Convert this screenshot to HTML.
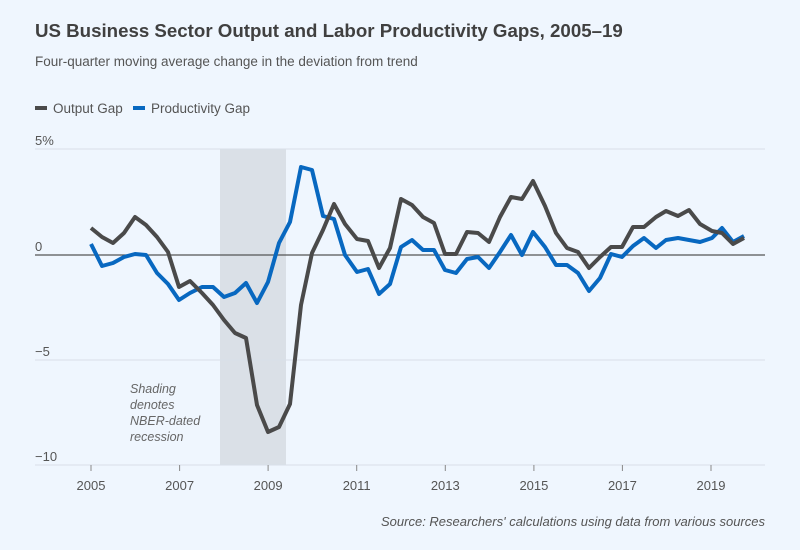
<!DOCTYPE html>
<html><head><meta charset="utf-8"><style>
body{margin:0;background:#eff6fe;}
svg{display:block;font-family:"Liberation Sans",sans-serif;}
</style></head><body>
<svg width="800" height="550" viewBox="0 0 800 550" xmlns="http://www.w3.org/2000/svg">
<rect width="800" height="550" fill="#eff6fe"/>
<text x="35" y="37" font-size="18.7" font-weight="bold" fill="#404040">US Business Sector Output and Labor Productivity Gaps, 2005–19</text>
<text x="35" y="66" font-size="13.5" fill="#555">Four-quarter moving average change in the deviation from trend</text>
<line x1="35" y1="108" x2="47" y2="108" stroke="#4a4a4a" stroke-width="4"/>
<text x="53" y="113" font-size="13.5" fill="#555">Output Gap</text>
<line x1="133" y1="108" x2="145" y2="108" stroke="#0868c0" stroke-width="4"/>
<text x="151" y="113" font-size="13.5" fill="#555">Productivity Gap</text>
<rect x="220" y="149" width="66" height="316" fill="#dae0e7"/>
<g stroke="#d8dfe8" stroke-width="1">
<line x1="35" y1="149" x2="765" y2="149"/>
<line x1="35" y1="360" x2="765" y2="360"/>
<line x1="35" y1="465" x2="765" y2="465"/>
</g>
<line x1="35" y1="255" x2="765" y2="255" stroke="#555" stroke-width="1.2"/>
<g font-size="13" fill="#555">
<text x="35" y="145">5%</text>
<text x="35" y="251">0</text>
<text x="35" y="356">−5</text>
<text x="35" y="461">−10</text>
</g>
<g stroke="#888" stroke-width="1">
<line x1="91" y1="465" x2="91" y2="471"/><line x1="179.6" y1="465" x2="179.6" y2="471"/>
<line x1="268.1" y1="465" x2="268.1" y2="471"/><line x1="356.7" y1="465" x2="356.7" y2="471"/>
<line x1="445.3" y1="465" x2="445.3" y2="471"/><line x1="533.9" y1="465" x2="533.9" y2="471"/>
<line x1="622.4" y1="465" x2="622.4" y2="471"/><line x1="711" y1="465" x2="711" y2="471"/>
</g>
<g font-size="13" fill="#555" text-anchor="middle">
<text x="91" y="490">2005</text><text x="179.6" y="490">2007</text><text x="268.1" y="490">2009</text>
<text x="356.7" y="490">2011</text><text x="445.3" y="490">2013</text><text x="533.9" y="490">2015</text>
<text x="622.4" y="490">2017</text><text x="711" y="490">2019</text>
</g>
<g font-size="12.5" fill="#666" font-style="italic">
<text x="130" y="393">Shading</text><text x="130" y="409">denotes</text>
<text x="130" y="425">NBER-dated</text><text x="130" y="441">recession</text>
</g>
<polyline fill="none" stroke="#0868c0" stroke-width="4" stroke-linejoin="round" points="91,244 102,266 113,263 124,257 135,254 146,255 157,273 168,284 179,300 190,293 202,287 213,287 224,297 235,293 246,283 257,303 268,282 279,243 290,222 301,167 312,170 323,216 334,219 345,255 357,272 368,269 379,294 390,284 401,247 412,240 423,250 434,250 445,270 456,273 467,259 478,257 489,268 500,252 511,235 522,255 533,232 545,247 556,265 567,265 578,273 589,291 600,278 611,254 622,257 633,246 644,238 656,248 666,240 678,238 689,240 700,242 712,238 722,228 733,242 744,236"/>
<polyline fill="none" stroke="#4a4a4a" stroke-width="4" stroke-linejoin="round" points="91,228 102,237 113,243 124,233 135,217 146,225 157,237 168,252 179,287 190,281 202,293 213,305 224,320 235,333 246,338 257,405 268,432 279,427 290,404 301,305 312,253 323,230 334,204 345,224 357,239 368,241 379,268 390,248 401,199 412,205 423,217 434,223 445,254 456,254 467,232 478,233 489,242 500,217 511,197 522,199 533,181 545,206 556,233 567,248 578,252 589,268 600,257 611,247 622,247 633,227 644,227 656,217 666,211 678,216 689,210 700,224 712,231 722,233 733,244 744,238"/>
<text x="765" y="526" font-size="13" fill="#555" font-style="italic" text-anchor="end">Source: Researchers' calculations using data from various sources</text>
</svg>
</body></html>
